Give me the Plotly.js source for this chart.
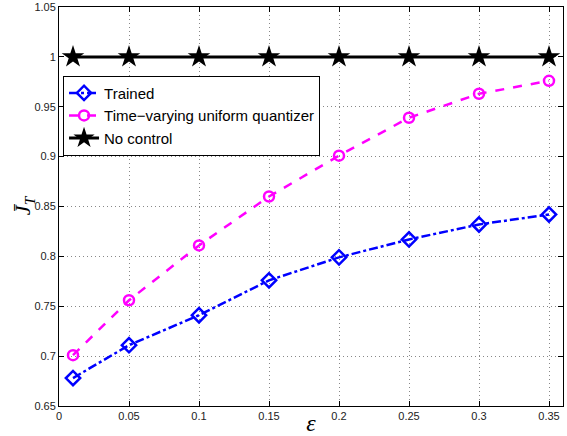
<!DOCTYPE html>
<html><head><meta charset="utf-8">
<script src="https://cdn.plot.ly/plotly-3.0.1.min.js"></script>
<style>html,body{margin:0;padding:0;background:#fff}#c{width:567px;height:436px}</style>
</head><body><div id="c"></div>
<script>
const epsilon = [0.01, 0.05, 0.1, 0.15, 0.2, 0.25, 0.3, 0.35];
const trained = [0.678, 0.711, 0.741, 0.776, 0.799, 0.817, 0.832, 0.842];
const uniformQ = [0.701, 0.756, 0.811, 0.860, 0.901, 0.939, 0.963, 0.976];
const noControl = [1, 1, 1, 1, 1, 1, 1, 1];
const names = ['Trained', 'Time\u2212varying uniform quantizer', 'No control'];
const xTicks = [0, 0.05, 0.1, 0.15, 0.2, 0.25, 0.3, 0.35];
const xTickText = ['0', '0.05', '0.1', '0.15', '0.2', '0.25', '0.3', '0.35'];
const yTicks = [0.65, 0.7, 0.75, 0.8, 0.85, 0.9, 0.95, 1, 1.05];
const yTickText = ['0.65', '0.7', '0.75', '0.8', '0.85', '0.9', '0.95', '1', '1.05'];

const traces = [
  {x: epsilon, y: trained, name: names[0], mode: 'lines+markers',
   line: {color: '#0000ff', width: 2.5, dash: 'dashdot'},
   marker: {symbol: 'diamond-open', size: 11, color: '#0000ff', line: {width: 2.5, color: '#0000ff'}}},
  {x: epsilon, y: uniformQ, name: names[1], mode: 'lines+markers',
   line: {color: '#ff00ff', width: 2.5, dash: 'dash'},
   marker: {symbol: 'circle-open', size: 10, color: '#ff00ff', line: {width: 2.5, color: '#ff00ff'}}},
  {x: epsilon, y: noControl, name: names[2], mode: 'lines+markers',
   line: {color: '#000000', width: 3},
   marker: {symbol: 'star', size: 17, color: '#000000'}}
];

const axisCommon = {
  showline: true, linecolor: '#000', linewidth: 1, mirror: 'ticks',
  ticks: 'inside', ticklen: 5, tickcolor: '#000',
  showgrid: true, gridcolor: '#888', griddash: '1px,3px', gridwidth: 1,
  zeroline: false, tickfont: {family: 'Liberation Sans, Arial', size: 11, color: '#222'}
};

const layout = {
  width: 567, height: 436,
  margin: {l: 59, r: 4, t: 7, b: 30},
  paper_bgcolor: '#fff', plot_bgcolor: '#fff',
  showlegend: true,
  legend: {x: 0.008, y: 0.828, xanchor: 'left', yanchor: 'top',
    bgcolor: '#fff', bordercolor: '#000', borderwidth: 1,
    font: {family: 'Liberation Sans, Arial', size: 15, color: '#000'},
    tracegroupgap: 0, itemwidth: 30},
  xaxis: Object.assign({}, axisCommon, {range: [0, 0.36], tickvals: xTicks, ticktext: xTickText,
    title: {text: '<i>ε</i>', font: {family: 'Liberation Serif, Times New Roman', size: 24, color: '#000'}, standoff: 0}}),
  yaxis: Object.assign({}, axisCommon, {range: [0.65, 1.05], tickvals: yTicks, ticktext: yTickText}),
  annotations: [{
    text: '<i>J̄<sub>T</sub></i>', xref: 'paper', yref: 'paper',
    x: -0.069, y: 0.504, xanchor: 'center', yanchor: 'middle', textangle: -90, showarrow: false,
    font: {family: 'Liberation Serif, Times New Roman', size: 22, color: '#000'}
  }]
};

Plotly.newPlot('c', traces, layout, {displayModeBar: false, staticPlot: true});
</script></body></html>
